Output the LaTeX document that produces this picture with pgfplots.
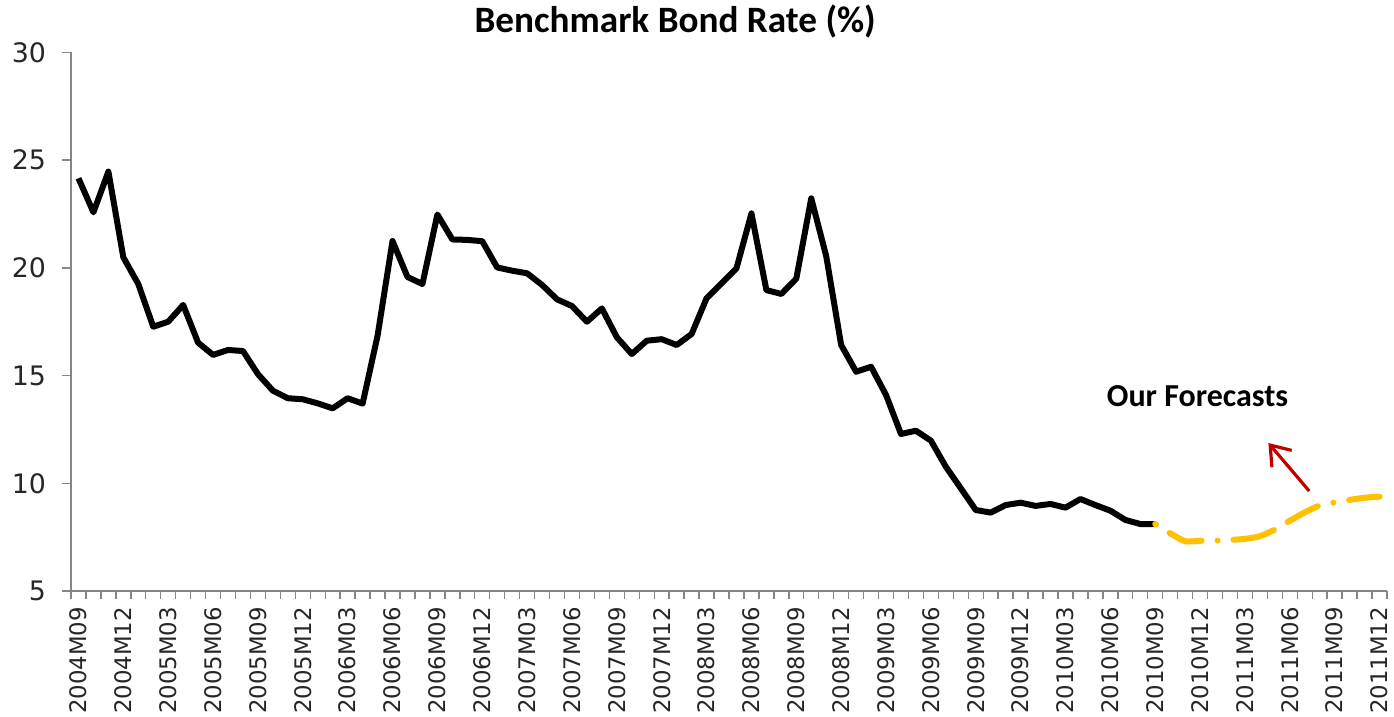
\documentclass[border=0pt]{standalone}
\usepackage{fontspec}
\setmainfont{DejaVu Sans}
\newfontfamily\carlito{Carlito}
\usepackage{pgfplots}
\pgfplotsset{compat=1.18}
\usetikzlibrary{arrows.meta}
\definecolor{axgray}{HTML}{868686}
\definecolor{fcyellow}{HTML}{FFC000}
\definecolor{arrred}{HTML}{C00000}

\begin{document}
\begin{tikzpicture}
\begin{axis}[
  name=main,
  at={(0,0)}, anchor=south west,
  scale only axis,
  width=658pt, height=269.25pt,
  xmin=-0.5, xmax=87.5,
  ymin=5, ymax=30,
  ytick={5,10,...,30},
  xtick={0,3,...,87},
  xticklabels={2004M09,2004M12,2005M03,2005M06,2005M09,2005M12,2006M03,2006M06,2006M09,2006M12,2007M03,2007M06,2007M09,2007M12,2008M03,2008M06,2008M09,2008M12,2009M03,2009M06,2009M09,2009M12,2010M03,2010M06,2010M09,2010M12,2011M03,2011M06,2011M09,2011M12},
  minor xtick={-0.5,0.5,...,87.5},
  axis lines*=left,
  axis line style={axgray, line width=0.7pt},
  tick align=outside,
  major tick length=4.5pt,
  minor tick length=4pt,
  major x tick style={draw=none},
  minor x tick style={axgray, line width=0.7pt},
  y tick style={axgray, line width=0.7pt},
  /pgf/number format/assume math mode=true,
  xticklabel style={rotate=90, anchor=east, font=\fontsize{11.4}{11.4}\selectfont, text=black!85},
  yticklabel style={font=\fontsize{13.4}{13.4}\selectfont, xshift=-4.5pt, text=black!85},
  clip=false,
]
\addplot[black, line width=3pt, line join=round] coordinates {
(0,24.16) (1,22.58) (2,24.47) (3,20.49) (4,19.25) (5,17.27) (6,17.50) (7,18.28)
(8,16.53) (9,15.96) (10,16.19) (11,16.14) (12,15.07) (13,14.30) (14,13.95) (15,13.90)
(16,13.71) (17,13.48) (18,13.95) (19,13.70) (20,16.85) (21,21.25) (22,19.58) (23,19.25)
(24,22.48) (25,21.32) (26,21.30) (27,21.24) (28,20.02) (29,19.87) (30,19.75) (31,19.21)
(32,18.54) (33,18.23) (34,17.50) (35,18.12) (36,16.78) (37,16.00) (38,16.62) (39,16.69)
(40,16.42) (41,16.93) (42,18.59) (43,19.28) (44,19.98) (45,22.53) (46,18.97) (47,18.79)
(48,19.50) (49,23.23) (50,20.55) (51,16.42) (52,15.18) (53,15.41) (54,14.10) (55,12.29)
(56,12.44) (57,11.98) (58,10.77) (59,9.77) (60,8.76) (61,8.64) (62,8.99) (63,9.10)
(64,8.95) (65,9.04) (66,8.87) (67,9.27) (68,8.99) (69,8.73) (70,8.30) (71,8.11) (72,8.11)
};
\addplot[fcyellow, line width=3pt, line cap=round, smooth, tension=0.4,
  dash pattern=on 17pt off 8pt on 0pt off 8pt on 21pt off 8pt, dash phase=53.5pt] coordinates {
(72,8.11) (73,7.68) (74,7.31) (75,7.33) (76,7.34) (77,7.37) (78,7.42) (79,7.54)
(80,7.85) (81,8.26) (82,8.65) (83,8.97) (84,9.11) (85,9.23) (86,9.33) (87,9.38)
};
\draw[arrred, line width=1.6pt, -{Straight Barb[length=9pt, width=13pt]}]
  (axis cs:82.3,9.64) -- (axis cs:79.57,11.87);
\node[font=\carlito\bfseries\fontsize{16}{16}\selectfont] at (axis cs:74.83,14.05) {Our Forecasts};
\node[font=\carlito\bfseries\fontsize{18.6}{18.6}\selectfont] at (rel axis cs:0.4591,1) [yshift=15.25pt] {Benchmark Bond Rate (\%)};
\end{axis}
\pgfresetboundingbox
\path ([shift={(-35.5pt,-63pt)}]main.south west) rectangle ([shift={(3.5pt,26.25pt)}]main.north east);
\end{tikzpicture}
\end{document}
